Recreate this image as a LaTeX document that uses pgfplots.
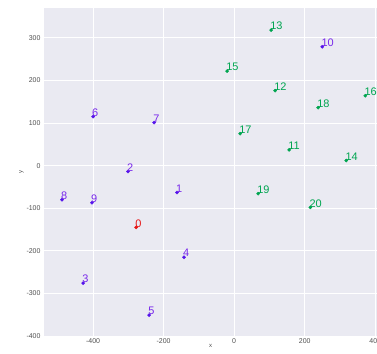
\documentclass[border=0pt]{standalone}
\usepackage{fontspec}
\setmainfont{Liberation Sans}
\usepackage{pgfplots}
\pgfplotsset{compat=1.18}
\definecolor{bgc}{RGB}{234,234,242}
\definecolor{cpur}{RGB}{85,20,235}
\definecolor{cpurt}{RGB}{120,40,235}
\definecolor{cred}{RGB}{230,20,20}
\definecolor{cgrn}{RGB}{0,165,80}
\definecolor{tickc}{RGB}{80,80,80}
\begin{document}
\begin{tikzpicture}
\begin{axis}[
  scale only axis,
  width=333bp, height=328bp,
  xmin=-539, xmax=405,
  ymin=-400, ymax=370,
  axis background/.style={fill=bgc},
  axis line style={draw=none},
  grid=major,
  major grid style={white, line width=0.7pt},
  xtick={-400,-200,0,200,400},
  ytick={-400,-300,-200,-100,0,100,200,300},
  tick style={draw=none},
  ticklabel style={font=\fontsize{7}{8}\selectfont, text=tickc},
  /pgf/number format/assume math mode=true,
  xticklabel style={yshift=1bp},
  xlabel={x}, ylabel={y},
  label style={font=\fontsize{6}{7}\selectfont, text=tickc},
  xlabel style={yshift=6bp},
  ylabel style={yshift=-4bp},
  nodes near coords,
  point meta=explicit symbolic,
  every node near coord/.append style={font=\fontsize{11}{12}\selectfont, anchor=south west, inner sep=0pt, xshift=-1bp, yshift=0bp},
  clip=false,
]
\addplot[only marks, mark=*, mark size=1.6pt, color=cred, every node near coord/.append style={text=cred}] coordinates {
(-278,-145) [0]
};
\addplot[only marks, mark=*, mark size=1.6pt, color=cpur, every node near coord/.append style={text=cpurt}] coordinates {
(-162,-63) [1]
(-301,-14) [2]
(-428,-276) [3]
(-142,-215) [4]
(-241,-351) [5]
(-400,115) [6]
(-227,101) [7]
(-488,-80) [8]
(-403,-87) [9]
(250,279) [10]
};
\addplot[only marks, mark=*, mark size=1.6pt, color=cgrn, every node near coord/.append style={text=cgrn}] coordinates {
(156,37) [11]
(116,176) [12]
(105,318) [13]
(318,12) [14]
(-20,222) [15]
(372,164) [16]
(17,75) [17]
(238,136) [18]
(68,-66) [19]
(216,-98) [20]
};
\end{axis}
\pgfresetboundingbox
\path[use as bounding box] ([xshift=-44bp,yshift=-18bp]current axis.south west) rectangle ([yshift=8bp]current axis.north east);
\end{tikzpicture}
\end{document}
